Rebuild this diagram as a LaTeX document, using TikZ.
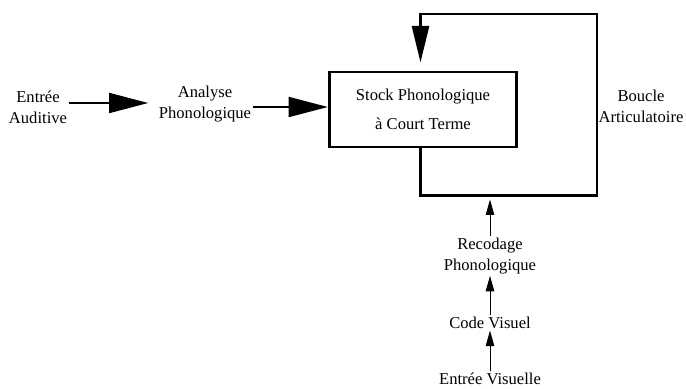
\documentclass[tikz,border=0pt]{standalone}
\usepackage{fontspec}
\setmainfont{Liberation Serif}
\usetikzlibrary{arrows.meta}

\tikzset{
  lbl/.style={align=center, inner sep=1pt, font=\fontsize{11.8}{15}\selectfont},
  stockbox/.style={draw, line width=2.1pt, minimum width=4.675cm, minimum height=1.875cm,
    align=center, font=\fontsize{11.8}{21}\selectfont},
  bigarrow/.style={line width=2.1pt, -{Triangle[length=28pt,width=14pt]}},
  looparrow/.style={line width=2.1pt, -{Triangle[length=26pt,width=12pt]}},
  smallarrow/.style={line width=0.7pt, -{Triangle[length=11pt,width=6pt]}},
}

\begin{document}
\begin{tikzpicture}[x=0.025cm, y=-0.025cm]
        \useasboundingbox (0,0) rectangle (686,389);

        % Labels
        \node[lbl] (entree) at (38,107) {Entrée\\Auditive};
        \node[lbl] (analyse) at (205,104) {Analyse\\Phonologique};
        \node[stockbox] (stock) at (423,109.5) {Stock Phonologique\\à Court Terme};
        \node[lbl] (boucle) at (641,106) {Boucle\\Articulatoire};
        \node[lbl] (recodage) at (490,256) {Recodage\\Phonologique};
        \node[lbl] (code) at (490,323) {Code Visuel};
        \node[lbl] (visuelle) at (490,379) {Entrée Visuelle};

        % Loop
        \coordinate (loopx) at (420.5,0);
        \coordinate (tapin) at (490,195.5);
        \draw[looparrow, shorten >=0.2cm] (stock.south -| loopx) |- (597,195.5)
            |- (420.5,14) -- (stock.north -| loopx);

        % Arrows
        \coordinate (rowa) at (0,103);
        \coordinate (rowb) at (0,107);
        \draw[bigarrow, shorten >=0.22cm] (entree.east |- rowa) -- (analyse.west |- rowa);
        \draw[bigarrow] (analyse.east |- rowb) -- (stock.west |- rowb);
        \draw[smallarrow, shorten >=0.1cm] (recodage.north) -- (tapin);
        \draw[smallarrow] (code.north) -- (recodage.south);
        \draw[smallarrow] (visuelle.north) -- (code.south);
\end{tikzpicture}
\end{document}
